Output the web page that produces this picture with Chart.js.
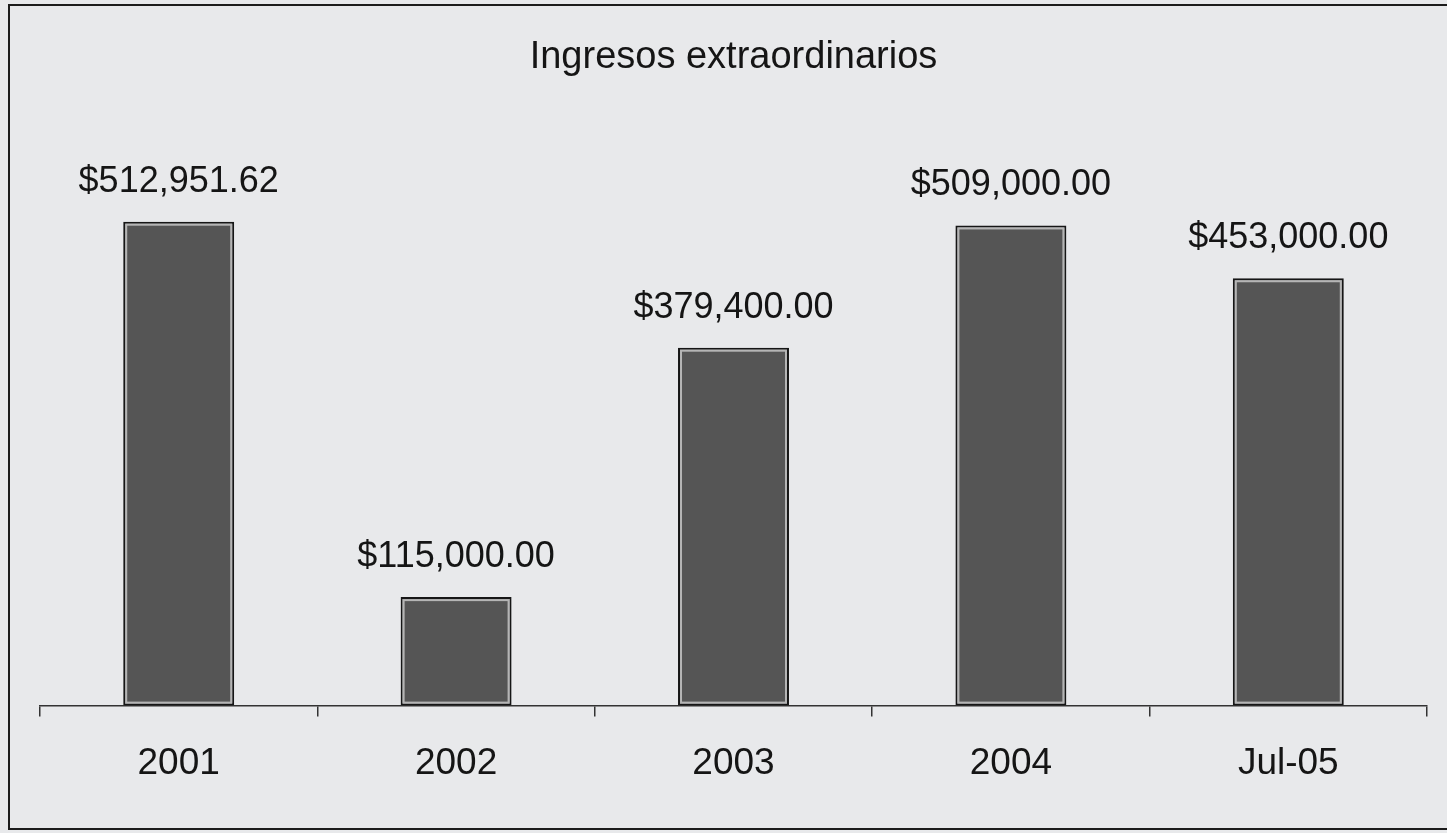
<!DOCTYPE html>
<html>
<head>
<meta charset="utf-8">
<script src="https://cdn.jsdelivr.net/npm/chart.js@4/dist/chart.umd.min.js"></script>
<style>
  html, body { margin: 0; padding: 0; background: #e8e9eb; overflow: hidden; }
  #wrap { position: absolute; left: 0; top: 0; width: 1447px; height: 833px; }
  #frame { position: absolute; left: 8px; top: 4px; width: 1460px; height: 822px;
           border: 2px solid #1c1c1c; border-right: none; pointer-events: none; }
</style>
</head>
<body>
<div id="wrap">
  <canvas id="chart"></canvas>
  <div id="frame"></div>
</div>
<script>
// data
var categories = ['2001', '2002', '2003', '2004', 'Jul-05'];
var ingresos = [512951.62, 115000.00, 379400.00, 509000.00, 453000.00];
var chartTitle = 'Ingresos extraordinarios';

function money(v)
{
   return '$' + v.toLocaleString('en-US', { minimumFractionDigits: 2, maximumFractionDigits: 2 });
}

// value labels above bars + light inner edge of each bar
var barLabels = {
   id: 'barLabels',
   afterDatasetsDraw: function(chart) {
      var ctx = chart.ctx;
      var meta = chart.getDatasetMeta(0);
      ctx.save();
      meta.data.forEach(function(bar, i) {
         var half = bar.width / 2;
         ctx.strokeStyle = 'rgba(205,205,205,0.8)';
         ctx.lineWidth = 2;
         ctx.strokeRect(bar.x - half + 3, bar.y + 3, bar.width - 6, bar.base - bar.y - 6);
         ctx.fillStyle = '#151515';
         ctx.font = '36px "Liberation Sans", Arial, sans-serif';
         ctx.textAlign = 'center';
         ctx.textBaseline = 'alphabetic';
         ctx.fillText(money(ingresos[i]), bar.x, bar.y - 30);
      });
      ctx.restore();
   }
};

var ctx = document.getElementById('chart').getContext('2d');
var myChart = new Chart(ctx, {
   type: 'bar',
   data: {
      labels: categories,
      datasets: [{
         label: chartTitle,
         data: ingresos,
         backgroundColor: '#555555',
         borderColor: '#161616',
         borderWidth: 2,
         borderSkipped: false,
         barPercentage: 0.4,
         categoryPercentage: 1.0
      }]
   },
   options: {
      responsive: true,
      maintainAspectRatio: false,
      animation: false,
      layout: { padding: { left: 40, right: 20, top: 0, bottom: 22 } },
      plugins: {
         legend: { display: false },
         tooltip: { enabled: false },
         title: {
            display: true,
            text: chartTitle,
            color: '#151515',
            font: { family: '"Liberation Sans", Arial, sans-serif', size: 38, weight: 'normal' },
            padding: { top: 35, bottom: 59 }
         }
      },
      scales: {
         x: {
            grid: { display: true, drawOnChartArea: false, offset: true, tickLength: 11, color: '#333', lineWidth: 1.5 },
            border: { display: true, color: '#333', width: 1.5 },
            ticks: {
               color: '#151515',
               padding: 25,
               font: { family: '"Liberation Sans", Arial, sans-serif', size: 37 }
            }
         },
         y: {
            display: false,
            min: 0,
            max: 600000
         }
      }
   },
   plugins: [barLabels]
});
</script>
</body>
</html>
